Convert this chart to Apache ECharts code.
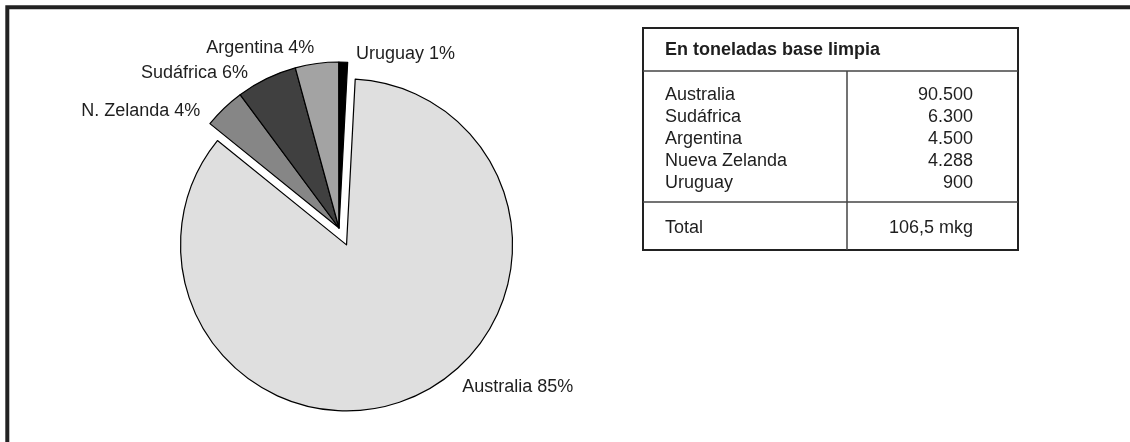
<!DOCTYPE html>
<html>
<head>
<meta charset="utf-8">
<script src="https://cdn.jsdelivr.net/npm/echarts@6/dist/echarts.min.js"></script>
<style>
html,body{margin:0;padding:0;background:#fff;}
#chart{width:1130px;height:442px;}
</style>
</head>
<body>
<div id="chart"></div>
<script>
// ---- data ----
var countries = ['Australia', 'N. Zelanda', 'Sudáfrica', 'Argentina', 'Uruguay'];
var tonnes = [90500, 4288, 6300, 4500, 900];
var tableTitle = 'En toneladas base limpia';
var tableNames = ['Australia', 'Sudáfrica', 'Argentina', 'Nueva Zelanda', 'Uruguay'];
var tableValues = ['90.500', '6.300', '4.500', '4.288', '900'];
var totalLabel = 'Total';
var totalValue = '106,5 mkg';

// ---- styles ----
var sliceColors = ['#dfdfdf', '#868686', '#404040', '#a3a3a3', '#000000'];
var labelNudges = [[32, -18], [-5, 9.5], [-2, 2.5], [11, -6.5], [0, 1]];
var FONT = '"Liberation Sans", Arial, sans-serif';
var TXT = '#1e1e1e';

var total = tonnes.reduce(function (a, b) { return a + b; }, 0);
var pieData = countries.map(function (c, i) {
  return {
    name: c,
    value: tonnes[i],
    selected: i === 0,
    itemStyle: { color: sliceColors[i] },
    select: { itemStyle: { color: sliceColors[i], borderColor: '#000', borderWidth: 1.2 } }
  };
});

var chart = echarts.init(document.getElementById('chart'), null, { renderer: 'canvas' });

// table graphics
var tX0 = 643, tX1 = 1018, tY0 = 28, tY1 = 250, hdrY = 71, divX = 847, totY = 202;
var g = [];
// outer frame of the figure
g.push({ type: 'rect', shape: { x: 7.3, y: 7.3, width: 1200, height: 500 },
  style: { fill: null, stroke: '#222', lineWidth: 4 }, silent: true });
g.push({ type: 'rect', shape: { x: tX0, y: tY0, width: tX1 - tX0, height: tY1 - tY0 },
  style: { fill: null, stroke: '#222', lineWidth: 2 }, silent: true });
g.push({ type: 'line', shape: { x1: tX0, y1: hdrY, x2: tX1, y2: hdrY },
  style: { stroke: '#444', lineWidth: 1.5 }, silent: true });
g.push({ type: 'line', shape: { x1: tX0, y1: totY, x2: tX1, y2: totY },
  style: { stroke: '#444', lineWidth: 1.5 }, silent: true });
g.push({ type: 'line', shape: { x1: divX, y1: hdrY, x2: divX, y2: tY1 },
  style: { stroke: '#444', lineWidth: 1.5 }, silent: true });
g.push({ type: 'text', x: 665, y: 50, style: { text: tableTitle, font: 'bold 18px ' + FONT,
  fill: TXT, textVerticalAlign: 'middle', textAlign: 'left' }, silent: true });
tableNames.forEach(function (n, i) {
  var y = 95 + i * 22;
  g.push({ type: 'text', x: 665, y: y, style: { text: n, font: '18px ' + FONT, fill: TXT,
    textVerticalAlign: 'middle', textAlign: 'left' }, silent: true });
  g.push({ type: 'text', x: 973, y: y, style: { text: tableValues[i], font: '18px ' + FONT, fill: TXT,
    textVerticalAlign: 'middle', textAlign: 'right' }, silent: true });
});
g.push({ type: 'text', x: 665, y: 228, style: { text: totalLabel, font: '18px ' + FONT, fill: TXT,
  textVerticalAlign: 'middle', textAlign: 'left' }, silent: true });
g.push({ type: 'text', x: 973, y: 228, style: { text: totalValue, font: '18px ' + FONT, fill: TXT,
  textVerticalAlign: 'middle', textAlign: 'right' }, silent: true });

chart.setOption({
  animation: false,
  backgroundColor: '#ffffff',
  graphic: g,
  series: [{
    type: 'pie',
    center: [339, 228],
    radius: 166,
    startAngle: 87,
    clockwise: true,
    selectedMode: 'multiple',
    selectedOffset: 18.5,
    avoidLabelOverlap: false,
    emphasis: { disabled: true },
    itemStyle: { borderColor: '#000', borderWidth: 1.2 },
    label: {
      show: true,
      position: 'outside',
      distanceToLabelLine: 5,
      fontFamily: FONT,
      fontSize: 18,
      color: TXT,
      formatter: function (p) {
        return p.name + ' ' + Math.round(p.value / total * 100) + '%';
      }
    },
    labelLine: { show: false, length: 9, length2: 7.5 },
    labelLayout: function (p) {
      var n = labelNudges[p.dataIndex];
      return { dx: n[0], dy: n[1] };
    },
    data: pieData
  }]
});
</script>
</body>
</html>
